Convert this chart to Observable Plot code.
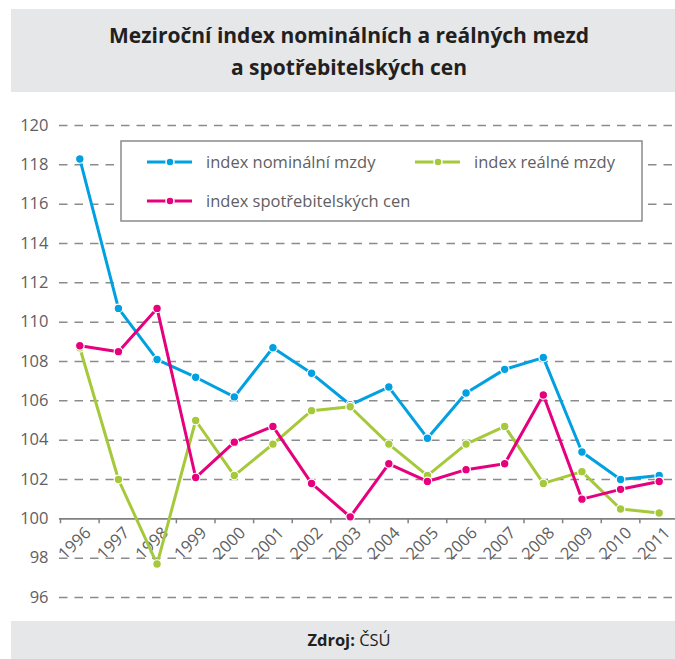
<!DOCTYPE html>
<html><head><meta charset="utf-8">
<script src="https://cdn.jsdelivr.net/npm/d3@7"></script>
<script src="https://cdn.jsdelivr.net/npm/@observablehq/plot@0.6"></script>
<style>
body{margin:0;width:675px;height:659px;overflow:hidden;position:relative;background:#fff;font-family:"Open Sans",sans-serif;}
#title{position:absolute;left:11px;top:9px;width:664px;height:83px;background:#e6e7e8;box-sizing:border-box;padding:10px 0 0 12px;text-align:center;font-weight:700;font-size:21px;line-height:32px;color:#231f20;}
#chart{position:absolute;left:0;top:100px;}
#footer{position:absolute;left:11px;top:621px;width:664px;height:38px;background:#e6e7e8;padding-left:12px;box-sizing:border-box;text-align:center;line-height:38px;font-size:16.5px;color:#231f20}
#legend{position:absolute;left:0;top:0;}
</style></head><body>
<div id="title">Meziroční index nominálních a reálných mezd<br>a spotřebitelských cen</div>
<div id="chart"></div>
<svg id="legend" width="675" height="659"></svg>
<div id="footer"><b>Zdroj:</b> ČSÚ</div>
<script>
const years = [1996,1997,1998,1999,2000,2001,2002,2003,2004,2005,2006,2007,2008,2009,2010,2011];
const nominal = [118.3,110.7,108.1,107.2,106.2,108.7,107.4,105.8,106.7,104.1,106.4,107.6,108.2,103.4,102.0,102.2];
const real    = [108.7,102.0,97.7,105.0,102.2,103.8,105.5,105.7,103.8,102.2,103.8,104.7,101.8,102.4,100.5,100.3];
const cpi     = [108.8,108.5,110.7,102.1,103.9,104.7,101.8,100.1,102.8,101.9,102.5,102.8,106.3,101.0,101.5,101.9];
const yTicks = [96,98,100,102,104,106,108,110,112,114,116,118,120];
const seriesNames = ["index nominální mzdy","index reálné mzdy","index spotřebitelských cen"];
const colors = ["#00a0e1","#a5c93a","#e6007e"];
const seriesValues = [nominal, real, cpi];

const bounds = years.map(y => y - 0.5);
const gridColor = "#8a8b8d";
const textColor = "#5f6062";

const seriesMarks = seriesValues.flatMap((vals, s) => {
  const rows = vals.map((v, i) => ({year: years[i], value: v, series: seriesNames[s]}));
  return [
    Plot.line(rows, {x: "year", y: "value", stroke: colors[s], strokeWidth: 3}),
    Plot.dot(rows, {x: "year", y: "value", fill: colors[s], r: 4.3, stroke: "white", strokeWidth: 1.2})
  ];
});

const chart = Plot.plot({
  width: 675, height: 521,
  marginTop: 25, marginBottom: 24, marginLeft: 59, marginRight: 0,
  x: {domain: [years[0] - 0.5, years[years.length - 1] + 0.5], range: [60, 678], axis: null},
  y: {domain: [yTicks[0], yTicks[yTicks.length - 1]], axis: null},
  style: {fontFamily: "'Open Sans', sans-serif", background: "transparent", overflow: "visible"},
  marks: [
    Plot.ruleY(yTicks.filter(t => t !== 100), {y: d => d, stroke: gridColor, strokeWidth: 1.5, strokeDasharray: "8.5,7"}),
    Plot.ruleY([100], {y: d => d, stroke: "#808184", strokeWidth: 1.6}),
    Plot.ruleX(bounds, {x: d => d, y1: () => 100, y2: () => 100, insetBottom: -5, stroke: "#808184", strokeWidth: 1.5}),
    Plot.text(yTicks, {y: d => d, text: d => String(d), frameAnchor: "left", textAnchor: "end", dx: -11, fontSize: 16.5, fill: textColor}),
    Plot.text(years, {x: d => d, y: () => 100, text: d => String(d), rotate: -45, textAnchor: "end", lineAnchor: "bottom", dx: 12, dy: 15, fontSize: 16.5, fill: textColor}),
    ...seriesMarks
  ]
});
document.getElementById("chart").appendChild(chart);

// legend
const lg = d3.select("#legend");
lg.append("rect").attr("x", 121).attr("y", 141).attr("width", 521).attr("height", 80)
  .attr("fill", "white").attr("stroke", gridColor).attr("stroke-width", 1.5);
const pos = [[147, 162], [415, 162], [147, 201]];
seriesNames.forEach((name, i) => {
  const [x, y] = pos[i];
  lg.append("line").attr("x1", x).attr("x2", x + 45).attr("y1", y).attr("y2", y)
    .attr("stroke", colors[i]).attr("stroke-width", 3);
  lg.append("circle").attr("cx", x + 23).attr("cy", y).attr("r", 4)
    .attr("fill", colors[i]).attr("stroke", "white").attr("stroke-width", 1.5);
  lg.append("text").attr("x", x + 59).attr("y", y + 6)
    .attr("font-family", "'Open Sans', sans-serif").attr("font-size", 16.5)
    .attr("fill", textColor).text(name);
});
</script>
</body></html>
